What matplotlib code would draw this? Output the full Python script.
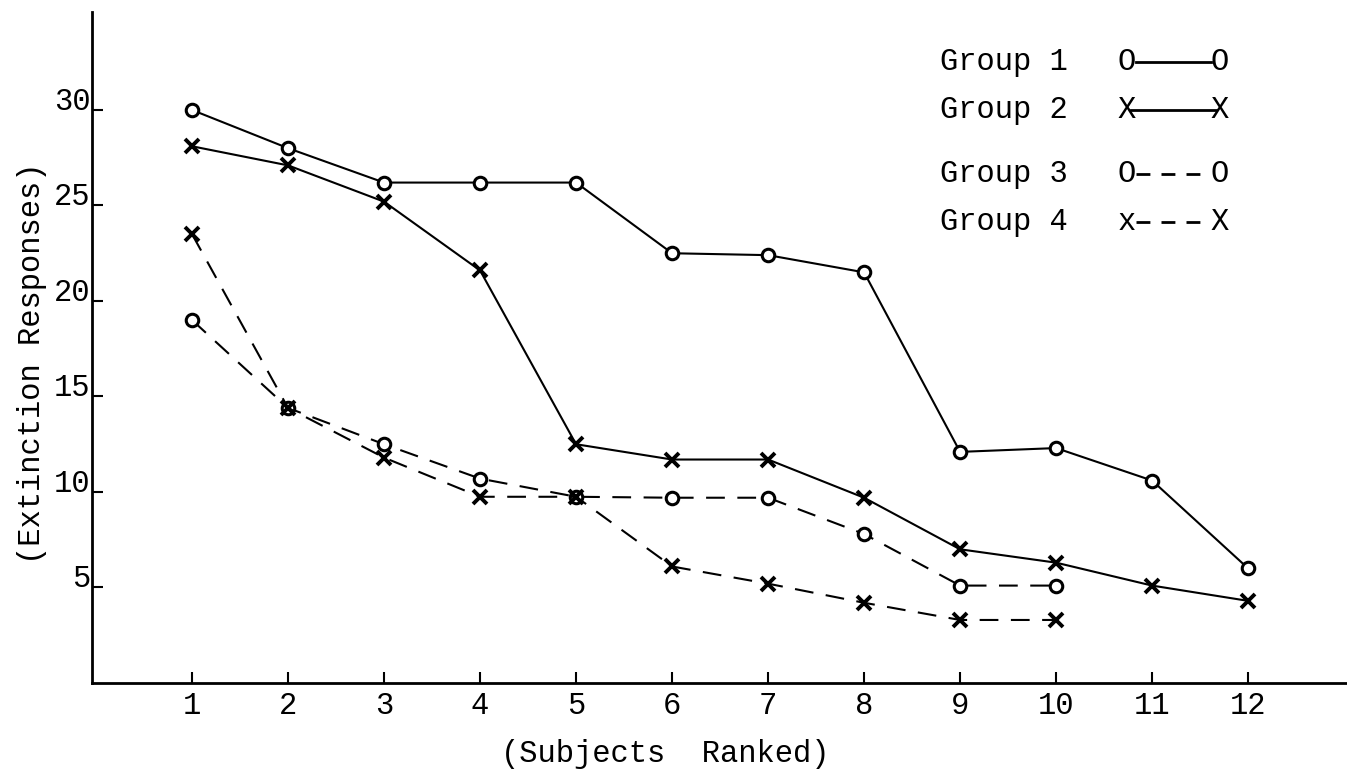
import numpy as np
import matplotlib
matplotlib.use("Agg")
import matplotlib.pyplot as plt
from matplotlib.lines import Line2D

# dados
sujeitos = list(range(1, 13))
grupo1 = [30.0, 28.0, 26.2, 26.2, 26.2, 22.5, 22.4, 21.5, 12.1, 12.3, 10.6, 6.0]
grupo2 = [28.1, 27.1, 25.2, 21.6, 12.5, 11.7, 11.7, 9.7, 7.0, 6.3, 5.1, 4.3]
grupo3 = [19.0, 14.4, 12.5, 10.7, 9.75, 9.7, 9.7, 7.8, 5.1, 5.1]
grupo4 = [23.5, 14.4, 11.8, 9.75, 9.75, 6.1, 5.2, 4.2, 3.3, 3.3]

y_ticks = [5, 10, 15, 20, 25, 30]
nomes = ["Group 1", "Group 2", "Group 3", "Group 4"]

plt.rcParams['font.family'] = ['Liberation Mono', 'DejaVu Sans Mono']

W, H = 1347, 771
fig = plt.figure(figsize=(W / 100, H / 100), dpi=100)
ax = fig.add_axes([92 / W, 88 / H, 1 - 92 / W, (683 - 12) / H])

lw = 1.5
tracejado = (0, (9, 6))
ax.plot(sujeitos, grupo1, color='black', lw=lw, marker='o', ms=9, mfc='white', mew=2.2)
ax.plot(sujeitos, grupo2, color='black', lw=lw, marker='x', ms=10, mew=2.8)
ax.plot(sujeitos[:len(grupo3)], grupo3, color='black', lw=lw, ls=tracejado,
        marker='o', ms=9, mfc='white', mew=2.2)
ax.plot(sujeitos[:len(grupo4)], grupo4, color='black', lw=lw, ls=tracejado,
        marker='x', ms=10, mew=2.8)

ax.set_xlim(-0.042, 13.03)
ax.set_ylim(0, 35.13)

for s in ['top', 'right']:
    ax.spines[s].set_visible(False)
for s in ['left', 'bottom']:
    ax.spines[s].set_linewidth(2)

ax.set_xticks(sujeitos)
ax.set_xticklabels([str(s) for s in sujeitos], fontsize=22)
ax.set_yticks(y_ticks)
ax.set_yticklabels([str(v) for v in y_ticks], fontsize=22)
ax.tick_params(axis='x', direction='in', length=8, width=1.5, pad=6)
ax.tick_params(axis='y', direction='in', length=8, width=1.5, pad=1)
for lab in ax.get_yticklabels():
    lab.set_verticalalignment('baseline')

# titulos dos eixos
fig.text(665 / W, 1 - 754 / H, "(Subjects  Ranked)", fontsize=22, ha='center', va='center')
fig.text(32 / W, 1 - 363 / H, "(Extinction Responses)", fontsize=22, rotation=90,
         ha='center', va='center')

# legenda datilografada
linhas_y = [62, 110, 174, 222]
simbolos = [("O", "O", '-'), ("X", "X", '-'), ("O", "O", '--'), ("x", "X", '--')]
for nome, yy, (esq, dir_, estilo) in zip(nomes, linhas_y, simbolos):
    yf = 1 - yy / H
    fig.text(940 / W, yf, nome, fontsize=22, ha='left', va='center')
    fig.text(1127 / W, yf, esq, fontsize=22, ha='center', va='center')
    fig.text(1220 / W, yf, dir_, fontsize=22, ha='center', va='center')
    if estilo == '-':
        ls = '-'
    else:
        ls = (0, (5, 4))
    x0, x1 = (1131, 1216) if esq == "X" else (1136, 1211)
    fig.add_artist(Line2D([x0 / W, x1 / W], [yf, yf], transform=fig.transFigure,
                          color='black', lw=2, ls=ls))

fig.savefig("out.png", dpi=100)
